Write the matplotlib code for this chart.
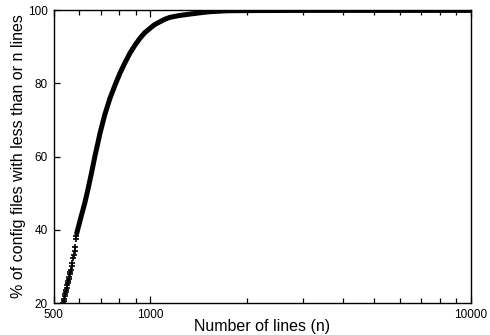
import matplotlib
matplotlib.use("Agg")
import matplotlib.pyplot as plt
from matplotlib.ticker import LogLocator, NullFormatter, FixedLocator, FixedFormatter

plt.rcParams['font.family'] = ['Liberation Sans', 'DejaVu Sans']

# lower, sparse part of the curve (individual + markers)
low_n = [535, 537, 539, 541, 543, 545, 547, 549, 551, 553, 555, 557, 559, 561, 563, 565, 568,
         571, 574, 577, 580, 582, 586, 588]
low_pct = [20.0, 20.6, 21.2, 21.8, 22.4, 23.0, 23.6, 24.2, 24.8, 25.4, 26.0, 26.6, 27.2, 27.8,
           28.4, 29.0, 30.0, 31.0, 32.2, 33.2, 34.3, 35.3, 37.6, 38.4]

# dense part of the curve (markers overlap into a thick line)
main_n = [589, 605, 625, 640, 655, 671, 685, 696, 720, 748, 775, 803, 833, 863, 895,
          928, 960, 997, 1030, 1071, 1110, 1150, 1230, 1328, 1430, 1534, 1729, 2000, 3000, 10000]
main_pct = [39.0, 42.9, 47.5, 51.4, 55.5, 60.0, 63.5, 66.3, 71.3, 75.9, 79.4, 82.7, 85.6, 88.2, 90.4,
            92.3, 93.8, 95.0, 96.0, 96.8, 97.5, 98.0, 98.5, 98.9, 99.25, 99.55, 99.8, 99.85, 99.9, 99.9]

fig = plt.figure(figsize=(4.9, 3.35), dpi=100)
ax = fig.add_axes([0.110, 0.0955, 0.851, 0.8745])

ax.plot(low_n, low_pct, linestyle='none', marker='+', color='k', markersize=4.5, markeredgewidth=1.2)
ax.plot(main_n, main_pct, '-', color='k', linewidth=3.6, solid_capstyle='round', solid_joinstyle='round')

ax.set_xscale('log')
ax.set_xlim(500, 10000)
ax.set_ylim(20, 100)

ax.xaxis.set_major_locator(FixedLocator([500, 1000, 10000]))
ax.xaxis.set_major_formatter(FixedFormatter(['500', '1000', '10000']))
ax.xaxis.set_minor_locator(LogLocator(base=10, subs=range(2, 10)))
ax.xaxis.set_minor_formatter(NullFormatter())
ax.set_yticks([20, 40, 60, 80, 100])

ax.tick_params(axis='x', which='both', direction='in', top=True, labelsize=8.5, pad=4)
ax.tick_params(axis='x', which='major', length=5, width=0.9)
ax.tick_params(axis='x', which='minor', length=3.5, width=0.9)
ax.tick_params(axis='y', which='both', direction='in', right=False, labelsize=8.5, length=4, width=0.9, pad=4.5)

for s in ax.spines.values():
    s.set_linewidth(1.0)

ax.set_xlabel("Number of lines (n)", fontsize=11.5, labelpad=-1)
ax.set_ylabel("% of config files with less than or n lines", fontsize=11.5, labelpad=1)

fig.savefig("out.png", dpi=100)
